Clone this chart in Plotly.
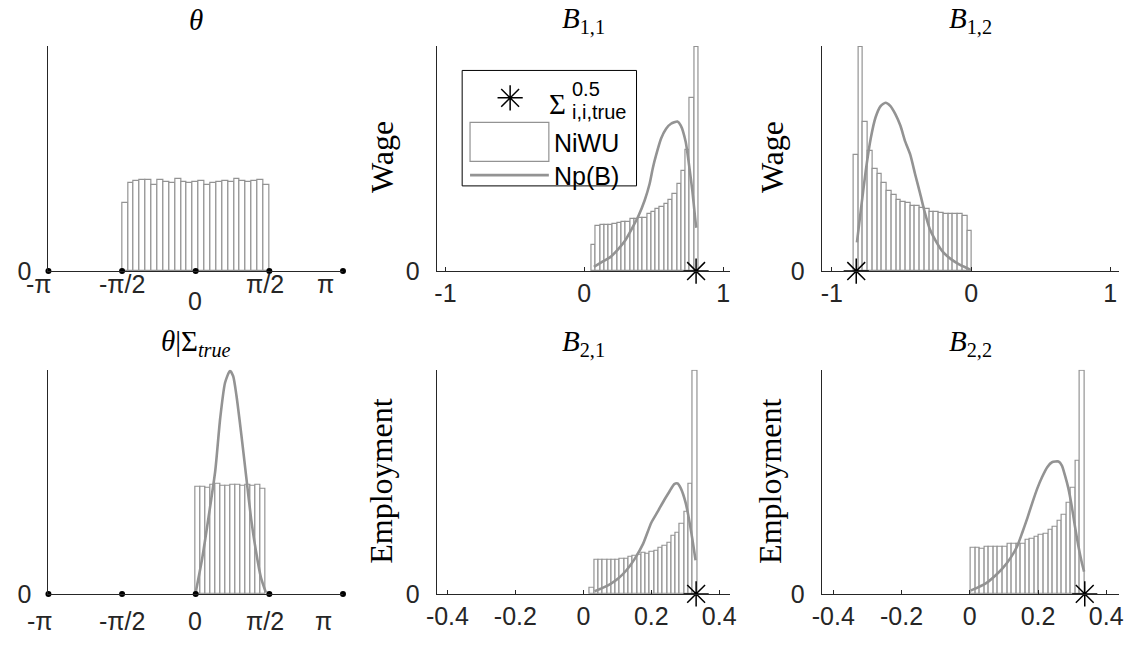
import numpy as np
import plotly.graph_objects as go

W, H = 1139, 649
PI = np.pi

# ---------------- data ----------------
# theta (prior draws): histogram on [-pi/2, pi/2]
theta_lo, theta_hi = -PI / 2, PI / 2
theta_freq = [0.304, 0.393, 0.401, 0.406, 0.407, 0.386, 0.404, 0.397, 0.393, 0.410,
              0.396, 0.394, 0.397, 0.403, 0.384, 0.394, 0.399, 0.403, 0.396, 0.409,
              0.403, 0.397, 0.401, 0.404, 0.383]

# theta | Sigma_true
theta_t_lo, theta_t_hi = 0.0, 1.495
theta_t_freq = [0.480, 0.480, 0.477, 0.489, 0.491, 0.486, 0.483, 0.489, 0.489, 0.483,
                0.489, 0.486, 0.489, 0.469]
theta_t_curve_x = [0.0, 0.139, 0.278, 0.418, 0.522, 0.626, 0.731, 0.80, 0.870, 0.974,
                   1.078, 1.183, 1.287, 1.392, 1.496]
theta_t_curve_y = [0.007, 0.160, 0.349, 0.553, 0.786, 0.946, 1.0, 0.975, 0.888, 0.713,
                   0.524, 0.335, 0.190, 0.073, 0.007]

# B(1,1)
b11_lo, b11_hi = 0.052, 0.823
b11_freq = [0.116, 0.203, 0.204, 0.206, 0.206, 0.210, 0.214, 0.217, 0.219, 0.232,
            0.232, 0.235, 0.236, 0.254, 0.262, 0.275, 0.284, 0.297, 0.319, 0.345,
            0.388, 0.446, 0.541, 0.772, 1.0]
b11_curve_x = [0.069, 0.128, 0.187, 0.246, 0.293, 0.340, 0.388, 0.435, 0.470, 0.494,
               0.518, 0.553, 0.589, 0.624, 0.671, 0.695, 0.730, 0.754, 0.778, 0.797, 0.806]
b11_curve_y = [0.019, 0.041, 0.062, 0.099, 0.135, 0.186, 0.243, 0.316, 0.388, 0.461,
               0.519, 0.591, 0.635, 0.657, 0.667, 0.649, 0.577, 0.475, 0.359, 0.243, 0.193]
b11_true = 0.805

# B(1,2)
b12_lo, b12_hi = -0.844, 0.007
b12_freq = [0.516, 1.0, 0.664, 0.536, 0.457, 0.432, 0.391, 0.359, 0.338, 0.319,
            0.309, 0.304, 0.291, 0.291, 0.281, 0.275, 0.264, 0.262, 0.261, 0.254,
            0.255, 0.255, 0.254, 0.246, 0.178]
b12_curve_x = [-0.820, -0.792, -0.757, -0.721, -0.686, -0.650, -0.615, -0.579, -0.544,
               -0.508, -0.473, -0.437, -0.402, -0.366, -0.331, -0.296, -0.248, -0.201,
               -0.142, -0.083, -0.024, 0.0]
b12_curve_y = [0.128, 0.272, 0.446, 0.591, 0.686, 0.736, 0.751, 0.736, 0.700, 0.649,
               0.577, 0.519, 0.432, 0.345, 0.258, 0.186, 0.128, 0.084, 0.052, 0.029,
               0.012, 0.004]
b12_true = -0.825

# B(2,1)
b21_lo, b21_hi = 0.0193, 0.335
b21_freq = [0.029, 0.151, 0.154, 0.154, 0.152, 0.152, 0.152, 0.158, 0.158, 0.164,
            0.170, 0.176, 0.184, 0.180, 0.190, 0.195, 0.205, 0.214, 0.228, 0.258,
            0.275, 0.312, 0.366, 0.492, 1.0]
b21_curve_x = [0.0329, 0.0551, 0.0792, 0.1034, 0.1275, 0.1517, 0.1758, 0.2, 0.2193,
               0.2386, 0.2531, 0.2676, 0.2773, 0.287, 0.3014, 0.3111, 0.3208, 0.3304]
b21_curve_y = [0.012, 0.026, 0.044, 0.070, 0.107, 0.158, 0.224, 0.319, 0.370,
               0.422, 0.458, 0.492, 0.495, 0.473, 0.407, 0.334, 0.246, 0.151]
b21_true = 0.332

# B(2,2)
b22_lo, b22_hi = 0.003, 0.337
b22_freq = [0.207, 0.207, 0.204, 0.212, 0.212, 0.212, 0.212, 0.212, 0.226, 0.223,
            0.223, 0.223, 0.241, 0.248, 0.255, 0.263, 0.270, 0.285, 0.299, 0.326,
            0.353, 0.409, 0.474, 0.596, 1.0]
b22_curve_x = [0.003, 0.024, 0.048, 0.072, 0.096, 0.121, 0.140, 0.154, 0.169, 0.183,
               0.198, 0.212, 0.227, 0.241, 0.260, 0.270, 0.279, 0.289, 0.299, 0.308,
               0.318, 0.328, 0.335]
b22_curve_y = [0.015, 0.029, 0.048, 0.078, 0.114, 0.165, 0.217, 0.275, 0.341, 0.407,
               0.473, 0.524, 0.568, 0.590, 0.593, 0.575, 0.531, 0.473, 0.392, 0.305,
               0.217, 0.143, 0.100]
b22_true = 0.337

theta_ticks = [-PI, -PI / 2, 0, PI / 2, PI]
theta_labels = ["-π", "-π/2", "0", "π/2", "π"]
b_top_ticks = [-1, 0, 1]
b_top_labels = ["-1", "0", "1"]
b_bot_ticks = [-0.4, -0.2, 0, 0.2, 0.4]
b_bot_labels = ["-0.4", "-0.2", "0", "0.2", "0.4"]

# ---------------- style ----------------
SANS = "Liberation Sans, Arial, Helvetica, sans-serif"
SERIF = "Liberation Serif, Times New Roman, serif"
AX = "#262626"
GREY = "#939393"
TICK_FS = 25
TITLE_FS = 29
YLAB_FS = 32


def pxx(x):
    return x / W


def pxy(y):
    return 1 - y / H


# pixel boxes for each panel: (left, right, top, bottom)
cols = [(38, 337), (432, 730), (823, 1125)]
rows = [(47, 277), (378, 607)]

panels = [
    dict(row=0, col=0, xr=[-PI, PI], title="<i>θ</i>"),
    dict(row=0, col=1, xr=[-1.064, 1.05], title="<i>B</i><sub>1,1</sub>"),
    dict(row=0, col=2, xr=[-1.073, 1.064], title="<i>B</i><sub>1,2</sub>"),
    dict(row=1, col=0, xr=[-PI, PI], title="<i>θ</i>|Σ<sub><i>true</i></sub>"),
    dict(row=1, col=1, xr=[-0.432, 0.432], title="<i>B</i><sub>2,1</sub>"),
    dict(row=1, col=2, xr=[-0.434, 0.438], title="<i>B</i><sub>2,2</sub>"),
]

fig = go.Figure()
layout = dict(
    width=W, height=H,
    margin=dict(l=0, r=0, t=0, b=0),
    paper_bgcolor="white", plot_bgcolor="rgba(0,0,0,0)",
    showlegend=False,
)
annotations = []
shapes = []

for i, p in enumerate(panels, start=1):
    x0, x1 = cols[p["col"]]
    y0, y1 = rows[p["row"]]
    xa = dict(domain=[pxx(x0), pxx(x1)], range=p["xr"], showgrid=False, zeroline=False,
              showline=True, linecolor=AX, linewidth=1, anchor=f"y{i}",
              tickfont=dict(family=SANS, size=TICK_FS, color=AX))
    ya = dict(domain=[pxy(y1), pxy(y0)], range=[0, 1.004], showgrid=False, zeroline=False,
              showline=True, linecolor=AX, linewidth=1, anchor=f"x{i}",
              tickvals=[0], ticktext=["0"], ticks="", ticklabelstandoff=11,
              tickfont=dict(family=SANS, size=TICK_FS, color=AX))
    if p["col"] == 0:
        xa.update(showticklabels=False, ticks="")
    else:
        tv, tt = (b_top_ticks, b_top_labels) if p["row"] == 0 else (b_bot_ticks, b_bot_labels)
        xa.update(tickvals=tv, ticktext=tt, ticks="inside", ticklen=4, tickcolor=AX,
                  tickwidth=1, ticklabelstandoff=0)
    layout["xaxis" if i == 1 else f"xaxis{i}"] = xa
    layout["yaxis" if i == 1 else f"yaxis{i}"] = ya
    annotations.append(dict(text=p["title"], x=pxx((x0 + x1) / 2),
                            y=pxy(y0 - 27), xref="paper", yref="paper",
                            showarrow=False, xanchor="center", yanchor="middle",
                            font=dict(family=SERIF, size=TITLE_FS, color="black")))


def add_hist(i, lo, hi, freq):
    n = len(freq)
    w = (hi - lo) / n
    centers = [lo + w * (k + 0.5) for k in range(n)]
    fig.add_trace(go.Bar(x=centers, y=freq, width=w, xaxis=f"x{i}", yaxis=f"y{i}",
                         marker=dict(color="white", line=dict(color=GREY, width=1.2)),
                         hoverinfo="skip"))


def add_curve(i, xs, ys):
    fig.add_trace(go.Scatter(x=xs, y=ys, mode="lines", xaxis=f"x{i}", yaxis=f"y{i}",
                             line=dict(color=GREY, width=2.6, shape="spline", smoothing=0.6),
                             hoverinfo="skip"))


STAR = dict(symbol="asterisk-open", size=21, color="black",
            line=dict(color="black", width=1.5))


def add_true(i, v):
    fig.add_trace(go.Scatter(x=[v], y=[0], mode="markers", xaxis=f"x{i}", yaxis=f"y{i}",
                             cliponaxis=False, marker=STAR, hoverinfo="skip"))


def add_theta_dots(i):
    fig.add_trace(go.Scatter(x=theta_ticks, y=[0] * len(theta_ticks), mode="markers",
                             xaxis=f"x{i}", yaxis=f"y{i}", cliponaxis=False,
                             marker=dict(symbol="circle", size=6, color="black"),
                             hoverinfo="skip"))


# panel 1: theta
add_hist(1, theta_lo, theta_hi, theta_freq)
add_theta_dots(1)
# panel 2: B11
add_hist(2, b11_lo, b11_hi, b11_freq)
add_curve(2, b11_curve_x, b11_curve_y)
add_true(2, b11_true)
# panel 3: B12
add_hist(3, b12_lo, b12_hi, b12_freq)
add_curve(3, b12_curve_x, b12_curve_y)
add_true(3, b12_true)
# panel 4: theta | Sigma_true
add_hist(4, theta_t_lo, theta_t_hi, theta_t_freq)
add_curve(4, theta_t_curve_x, theta_t_curve_y)
add_theta_dots(4)
# panel 5: B21
add_hist(5, b21_lo, b21_hi, b21_freq)
add_curve(5, b21_curve_x, b21_curve_y)
add_true(5, b21_true)
# panel 6: B22
add_hist(6, b22_lo, b22_hi, b22_freq)
add_curve(6, b22_curve_x, b22_curve_y)
add_true(6, b22_true)

# angle labels under the theta panels
top_pos = [(28, 290), (112.5, 290), (187, 308), (257.5, 290), (319, 290)]
bot_pos = [(29, 635), (112.5, 635), (187, 635), (257.5, 635), (317.5, 635)]
for lab, (x, y) in zip(theta_labels, top_pos):
    annotations.append(dict(text=lab, x=pxx(x), y=pxy(y), xref="paper", yref="paper",
                            showarrow=False, xanchor="center", yanchor="middle",
                            font=dict(family=SANS, size=TICK_FS, color=AX)))
for lab, (x, y) in zip(theta_labels, bot_pos):
    annotations.append(dict(text=lab, x=pxx(x), y=pxy(y), xref="paper", yref="paper",
                            showarrow=False, xanchor="center", yanchor="middle",
                            font=dict(family=SANS, size=TICK_FS, color=AX)))

# y-axis labels
for txt, x, y in [("Wage", 376, 160), ("Wage", 772, 160),
                  ("Employment", 376, 492), ("Employment", 771, 492)]:
    annotations.append(dict(text=txt, x=pxx(x), y=pxy(y), xref="paper", yref="paper",
                            showarrow=False, textangle=-90, xanchor="center",
                            yanchor="middle",
                            font=dict(family=SERIF, size=YLAB_FS, color="black")))

# legend (drawn inside the B11 panel)
shapes.append(dict(type="rect", xref="paper", yref="paper",
                   x0=pxx(458), x1=pxx(635), y0=pxy(190), y1=pxy(72),
                   line=dict(color="black", width=1), fillcolor="rgba(0,0,0,0)"))
shapes.append(dict(type="rect", xref="paper", yref="paper",
                   x0=pxx(466), x1=pxx(546), y0=pxy(165), y1=pxy(125),
                   line=dict(color=GREY, width=1.2), fillcolor="white"))
shapes.append(dict(type="line", xref="paper", yref="paper",
                   x0=pxx(466), x1=pxx(546), y0=pxy(179), y1=pxy(179),
                   line=dict(color=GREY, width=2.6)))

layout["xaxis7"] = dict(domain=[0, 1], range=[0, W], visible=False, anchor="y7", fixedrange=True)
layout["yaxis7"] = dict(domain=[0, 1], range=[H, 0], visible=False, anchor="x7", fixedrange=True)
fig.add_trace(go.Scatter(x=[506.7], y=[100], mode="markers", xaxis="x7", yaxis="y7",
                         marker=STAR, hoverinfo="skip"))

legend_text = [
    ("Σ", 544, 106, SERIF, 29, "left"),
    ("0.5", 567, 91, SANS, 20, "left"),
    ("i,i,true", 567, 114, SANS, 20, "left"),
    ("NiWU", 549, 146, SANS, 25, "left"),
    ("Np(B)", 549, 180, SANS, 25, "left"),
]
for txt, x, y, fam, fs, xa in legend_text:
    annotations.append(dict(text=txt, x=pxx(x), y=pxy(y), xref="paper", yref="paper",
                            showarrow=False, xanchor=xa, yanchor="middle",
                            font=dict(family=fam, size=fs, color="black")))

layout["annotations"] = annotations
layout["shapes"] = shapes
layout["bargap"] = 0
fig.update_layout(**layout)

fig.write_html("out.html")
